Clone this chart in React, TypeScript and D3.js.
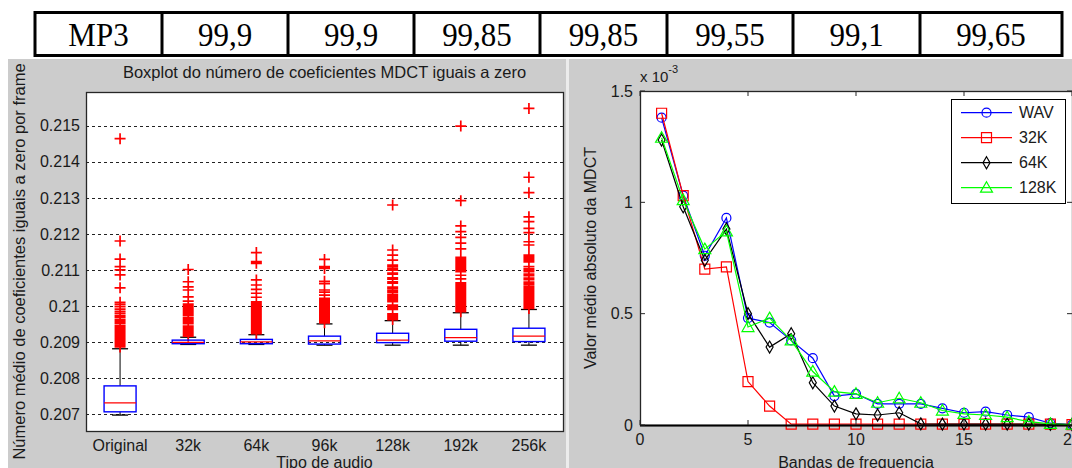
import React from 'react';
import * as d3 from 'd3';

// tabela de cima
const tableLabels = ['MP3', '99,9', '99,9', '99,85', '99,85', '99,55', '99,1', '99,65'];

// boxplot: numero medio de coeficientes MDCT iguais a zero
const audioTypes = ['Original', '32k', '64k', '96k', '128k', '192k', '256k'];
const whiskerLow = [0.20697, 0.20893, 0.20893, 0.20891, 0.20891, 0.20891, 0.20891];
const quartile1 = [0.20706, 0.20895, 0.20895, 0.20894, 0.20898, 0.20902, 0.20901];
const medians = [0.20731, 0.20899, 0.209, 0.20903, 0.20905, 0.20912, 0.20916];
const quartile3 = [0.20778, 0.20905, 0.20907, 0.20916, 0.20924, 0.20935, 0.20938];
const whiskerHigh = [0.20881, 0.20913, 0.2092, 0.2095, 0.20959, 0.20981, 0.2099];

const outliersOriginal = [
  .20886, .2089, .20894, .20898, .20902, .20906, .2091, .20914, .20918, .20922, .20926, .2093,
  .20934, .20938, .20942, .20946, .20952, .20957, .20962, .20968, .20973, .20979, .20985,
  .20991, .20998, .21004, .2101, .2105, .21086, .211, .21109, .2113, .2118, .21464,
];
const outliers32k = [
  .20916, .2092, .20924, .20928, .20932, .20936, .2094, .20944, .20951, .20955, .20959, .20963,
  .20967, .20973, .20977, .20981, .20985, .20989, .20993, .20997, .21001, .21005, .21013,
  .21025, .21044, .21053, .21067, .21101,
];
const outliers64k = [
  .20923, .20927, .20931, .20935, .20939, .20943, .20947, .20951, .20955, .20959, .20963,
  .20967, .20971, .20975, .20979, .20983, .20987, .20991, .20995, .20999, .21003, .21007,
  .21011, .21024, .21035, .21046, .21058, .21072, .21118, .21123, .21148,
];
const outliers96k = [
  .20953, .20957, .20961, .20965, .20969, .20973, .20977, .20981, .20985, .20989, .20993,
  .20997, .21001, .21005, .21009, .21013, .21017, .21021, .2103, .21038, .21044, .21062,
  .21068, .21104, .21109, .21129,
];
const outliers128k = [
  .20962, .20966, .2097, .20974, .20978, .2099, .20994, .20998, .21002, .21012, .21016, .2102,
  .21024, .21028, .21032, .21038, .21042, .21047, .21052, .21063, .21067, .21074, .21078,
  .21088, .21091, .21099, .21103, .21108, .21113, .21127, .21141, .21155, .2128,
];
const outliers192k = [
  .20984, .20988, .20992, .20996, .21, .21004, .21008, .21012, .21016, .2102, .21024, .21028,
  .21032, .21036, .2104, .21044, .21048, .21052, .21056, .2106, .21064, .21075, .21085,
  .21095, .21099, .21103, .21107, .21111, .21115, .21119, .21123, .21127, .21131, .21135,
  .21158, .21174, .2119, .21206, .21222, .21292, .21499,
];
const outliers256k = [
  .20993, .20997, .21001, .21005, .21009, .21013, .21017, .21021, .21025, .21029, .21033,
  .21037, .21041, .21045, .21049, .21053, .21058, .21062, .21066, .21073, .21077, .21084,
  .21088, .21095, .21099, .21103, .21109, .21122, .21126, .2113, .21134, .21138, .21141,
  .21169, .21178, .21203, .21215, .21234, .21247, .21314, .21357, .21548,
];
const outliers = [outliersOriginal, outliers32k, outliers64k, outliers96k, outliers128k, outliers192k, outliers256k];
const boxTicks = [0.207, 0.208, 0.209, 0.21, 0.211, 0.212, 0.213, 0.214, 0.215];
const boxTickLabels = ['0.207', '0.208', '0.209', '0.21', '0.211', '0.212', '0.213', '0.214', '0.215'];

// valor medio absoluto da MDCT por banda (x 10^-3)
const bands = [1, 2, 3, 4, 5, 6, 7, 8, 9, 10, 11, 12, 13, 14, 15, 16, 17, 18, 19, 20];
const wavMean = [1.38, 1.03, 0.76, 0.93, 0.48, 0.46, 0.38, 0.3, 0.13, 0.14, 0.095, 0.095, 0.095, 0.075, 0.055, 0.06, 0.045, 0.035, 0.008, 0.002];
const k32Mean = [1.4, 1.03, 0.7, 0.71, 0.195, 0.085, 0.004, 0.004, 0.004, 0.004, 0.004, 0.004, 0.004, 0.004, 0.004, 0.004, 0.004, 0.004, 0.004, 0.002];
const k64Mean = [1.28, 0.98, 0.74, 0.88, 0.5, 0.35, 0.41, 0.19, 0.085, 0.05, 0.045, 0.055, 0.005, 0.004, 0.004, 0.004, 0.004, 0.004, 0.003, 0.002];
const k128Mean = [1.29, 1.01, 0.79, 0.87, 0.44, 0.48, 0.38, 0.24, 0.15, 0.14, 0.1, 0.12, 0.1, 0.065, 0.05, 0.045, 0.035, 0.015, 0.005, 0.002];
const seriesNames = ['WAV', '32K', '64K', '128K'];
const freqTicksX = [0, 5, 10, 15, 20];
const freqTicksY = [0, 0.5, 1, 1.5];
const freqTickLabelsY = ['0', '0.5', '1', '1.5'];

const W = 1072;
const H = 468;
const sans = 'Liberation Sans, Arial, sans-serif';
const ink = '#1a1a1a';
const figGray = '#cccccc';
const tableCols = [35, 162, 288, 414, 540, 667, 793, 920, 1062];
const boxArea = { left: 86, right: 563, top: 92, bottom: 431 };
const lineArea = { left: 640, right: 1072, top: 91, bottom: 425 };

const seriesStyle = [
  { data: wavMean, color: '#0000ff', marker: 'circle' },
  { data: k32Mean, color: '#ff0000', marker: 'square' },
  { data: k64Mean, color: '#000000', marker: 'diamond' },
  { data: k128Mean, color: '#00ff00', marker: 'triangle' },
];

function markerPath(kind: string, x: number, y: number) {
  if (kind === 'circle') return `M${x - 4.5},${y}a4.5,4.5 0 1,0 9,0a4.5,4.5 0 1,0 -9,0`;
  if (kind === 'square') return `M${x - 5},${y - 5}h10v10h-10Z`;
  if (kind === 'diamond') return `M${x},${y - 6}L${x + 3.5},${y}L${x},${y + 6}L${x - 3.5},${y}Z`;
  return `M${x},${y - 6}L${x + 6},${y + 4.5}L${x - 6},${y + 4.5}Z`;
}

export default function App() {
  const bx = d3.scaleLinear().domain([0.5, 7.5]).range([boxArea.left, boxArea.right]);
  const by = d3.scaleLinear().domain([0.206528, 0.215935]).range([boxArea.bottom, boxArea.top]);
  const lx = d3.scaleLinear().domain([0, 20]).range([lineArea.left, lineArea.right]);
  const ly = d3.scaleLinear().domain([0, 1.5]).range([lineArea.bottom, lineArea.top]);
  const halfBox = 16;
  const halfCap = 8;
  const plus = 5.5;

  const lineGen = (vals: number[]) =>
    d3.line<number>().x((_, i) => lx(bands[i])).y(d => ly(d))(vals) || '';

  return (
    <svg width={W} height={H} style={{ position: 'absolute', left: 0, top: 0, background: '#fff' }}>
      {/* tabela */}
      <g>
        <rect x={tableCols[0]} y={12.5} width={tableCols[8] - tableCols[0]} height={43} fill="#fff" stroke="#000" strokeWidth={3} />
        {tableCols.slice(1, 8).map(c => (
          <line key={c} x1={c} x2={c} y1={12.5} y2={55.5} stroke="#000" strokeWidth={3} />
        ))}
        {tableLabels.map((t, i) => (
          <text key={i} transform={`translate(${(tableCols[i] + tableCols[i + 1]) / 2},46) scale(1,1.1)`}
            textAnchor="middle" fontFamily="Liberation Serif, Times New Roman, serif" fontSize={31} fill="#000">{t}</text>
        ))}
      </g>

      {/* paineis cinza */}
      <rect x={8} y={59} width={558} height={H - 59} fill={figGray} />
      <rect x={566} y={59} width={3} height={H - 59} fill="#ececec" />
      <rect x={569} y={59} width={W - 569} height={H - 59} fill={figGray} />

      {/* boxplot */}
      <g fontFamily={sans} fill={ink}>
        <rect x={boxArea.left} y={boxArea.top} width={boxArea.right - boxArea.left} height={boxArea.bottom - boxArea.top} fill="#fff" />
        {boxTicks.map(t => (
          <line key={t} x1={boxArea.left} x2={boxArea.right} y1={Math.round(by(t)) + 0.5} y2={Math.round(by(t)) + 0.5}
            stroke="#222" strokeDasharray="3,3" />
        ))}
        {audioTypes.map((name, i) => {
          const cx = bx(i + 1);
          const pts = outliers[i].map(v => `M${cx - plus},${by(v)}h${plus * 2}M${cx},${by(v) - plus}v${plus * 2}`).join('');
          return (
            <g key={name}>
              <line x1={cx} x2={cx} y1={by(quartile3[i])} y2={by(whiskerHigh[i])} stroke="#000" />
              <line x1={cx} x2={cx} y1={by(quartile1[i])} y2={by(whiskerLow[i])} stroke="#000" />
              <line x1={cx - halfCap} x2={cx + halfCap} y1={by(whiskerHigh[i])} y2={by(whiskerHigh[i])} stroke="#000" strokeWidth={1.3} />
              <line x1={cx - halfCap} x2={cx + halfCap} y1={by(whiskerLow[i])} y2={by(whiskerLow[i])} stroke="#000" strokeWidth={1.3} />
              <path d={pts} stroke="#ff0000" strokeWidth={1.7} fill="none" />
              <rect x={cx - halfBox} y={by(quartile3[i])} width={halfBox * 2} height={by(quartile1[i]) - by(quartile3[i])}
                fill="none" stroke="#0000ff" strokeWidth={1.4} />
              <line x1={cx - halfBox} x2={cx + halfBox} y1={by(medians[i])} y2={by(medians[i])} stroke="#ff0000" strokeWidth={1.2} />
              <text x={cx} y={451} textAnchor="middle" fontSize={16}>{name}</text>
            </g>
          );
        })}
        <rect x={boxArea.left + 0.5} y={boxArea.top + 0.5} width={boxArea.right - boxArea.left} height={boxArea.bottom - boxArea.top}
          fill="none" stroke="#262626" strokeWidth={1.3} />
        {boxTicks.map((t, i) => (
          <text key={t} x={80} y={by(t)} dy="0.36em" textAnchor="end" fontSize={16}>{boxTickLabels[i]}</text>
        ))}
        <text x={(boxArea.left + boxArea.right) / 2} y={78} textAnchor="middle" fontSize={16.5}>
          Boxplot do número de coeficientes MDCT iguais a zero
        </text>
        <text x={(boxArea.left + boxArea.right) / 2} y={468} textAnchor="middle" fontSize={16}>Tipo de audio</text>
        <text transform={`translate(25,${(boxArea.top + boxArea.bottom) / 2}) rotate(-90)`} textAnchor="middle" fontSize={16.5}>
          Número médio de coeficientes iguais a zero por frame
        </text>
      </g>

      {/* curvas por banda */}
      <g fontFamily={sans} fill={ink}>
        <rect x={lineArea.left} y={lineArea.top} width={lineArea.right - lineArea.left} height={lineArea.bottom - lineArea.top} fill="#fff" />
        {seriesStyle.map((s, k) => (
          <g key={seriesNames[k]}>
            <path d={lineGen(s.data)} fill="none" stroke={s.color} strokeWidth={1.2} />
            {s.data.map((v, i) => (
              <path key={i} d={markerPath(s.marker, lx(bands[i]), ly(v))} fill="none" stroke={s.color} strokeWidth={1.2} />
            ))}
          </g>
        ))}
        <rect x={lineArea.left + 0.5} y={lineArea.top + 0.5} width={lineArea.right - lineArea.left} height={lineArea.bottom - lineArea.top}
          fill="none" stroke="#262626" strokeWidth={1.3} />
        <line x1={lineArea.left} x2={lineArea.right} y1={lineArea.bottom + 0.5} y2={lineArea.bottom + 0.5} stroke="#000" strokeWidth={2} />
        {freqTicksX.map(t => (
          <g key={t}>
            <line x1={lx(t)} x2={lx(t)} y1={lineArea.top} y2={lineArea.top + 5} stroke="#262626" />
            <line x1={lx(t)} x2={lx(t)} y1={lineArea.bottom} y2={lineArea.bottom - 5} stroke="#262626" />
            <text x={lx(t)} y={445} textAnchor="middle" fontSize={16}>{t}</text>
          </g>
        ))}
        {freqTicksY.map((t, i) => (
          <g key={t}>
            <line x1={lineArea.left} x2={lineArea.left + 5} y1={ly(t)} y2={ly(t)} stroke="#262626" />
            <line x1={lineArea.right - 5} x2={lineArea.right} y1={ly(t)} y2={ly(t)} stroke="#262626" />
            <text x={633} y={ly(t)} dy="0.36em" textAnchor="end" fontSize={16}>{freqTickLabelsY[i]}</text>
          </g>
        ))}
        <text x={640} y={82} fontSize={15}>
          x 10<tspan dy={-9} fontSize={11}>-3</tspan>
        </text>
        <text x={(lineArea.left + lineArea.right) / 2} y={468} textAnchor="middle" fontSize={16}>Bandas de frequencia</text>
        <text transform={`translate(596,${(lineArea.top + lineArea.bottom) / 2}) rotate(-90)`} textAnchor="middle" fontSize={16}>
          Valor médio absoluto da MDCT
        </text>

        {/* legenda */}
        <rect x={951.5} y={99.5} width={114} height={104} fill="#fff" stroke="#000" />
        {seriesStyle.map((s, k) => {
          const yy = 112.7 + k * 25;
          return (
            <g key={k}>
              <line x1={961} x2={1012} y1={yy} y2={yy} stroke={s.color} strokeWidth={1.2} />
              <path d={markerPath(s.marker, 986.5, yy)} fill="none" stroke={s.color} strokeWidth={1.2} />
              <text x={1019} y={yy} dy="0.36em" fontSize={16}>{seriesNames[k]}</text>
            </g>
          );
        })}
      </g>
    </svg>
  );
}
